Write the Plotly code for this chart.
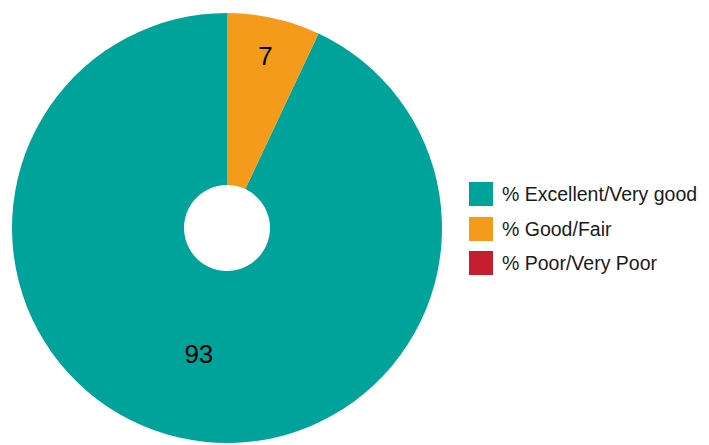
import plotly.graph_objects as go

categories = ["% Excellent/Very good", "% Good/Fair", "% Poor/Very Poor"]
values = [93, 7, 0]
colors = ["#00A39A", "#F59B1C", "#C41E30"]

# page body has an 8px margin; work in window pixels and shift
OFF = 8
WIN_W, WIN_H = 709, 445
W, H = WIN_W - OFF, WIN_H - OFF


def px(x):
    return (x - OFF) / W


def py(y):
    return (H - (y - OFF)) / H


# start the first slice so the second one begins at 12 o'clock
start_angle = 360 * sum(values[1:]) / sum(values)

fig = go.Figure()
fig.add_trace(go.Pie(
    labels=categories,
    values=values,
    sort=False,
    direction="clockwise",
    rotation=start_angle,
    hole=0.2,
    marker=dict(colors=colors, line=dict(width=0)),
    textinfo="value",
    textposition="inside",
    insidetextorientation="horizontal",
    textfont=dict(family="Liberation Sans, Arial, sans-serif", size=26, color="black"),
    showlegend=False,
    hoverinfo="label+value",
    domain=dict(x=[px(12), px(442)], y=[max(py(443), 0), py(13)]),
))

# custom legend (large square swatches)
leg_x0, sw = 469, 24
leg_y = [194, 229, 263]
shapes, annotations = [], []
for cat, col, yc in zip(categories, colors, leg_y):
    shapes.append(dict(type="rect", xref="paper", yref="paper",
                       x0=px(leg_x0), x1=px(leg_x0 + sw),
                       y0=py(yc + sw / 2), y1=py(yc - sw / 2),
                       fillcolor=col, line=dict(width=0)))
    annotations.append(dict(x=px(502), y=py(yc), borderpad=0, borderwidth=0,
                            xref="paper", yref="paper", xanchor="left", yanchor="middle",
                            text=cat, showarrow=False,
                            font=dict(family="Liberation Sans, Arial, sans-serif", size=19.5, color="#1a1a1a")))

fig.update_layout(
    width=W, height=H,
    margin=dict(l=0, r=0, t=0, b=0),
    paper_bgcolor="white", plot_bgcolor="white",
    shapes=shapes, annotations=annotations,
)

fig.write_html("out.html")
